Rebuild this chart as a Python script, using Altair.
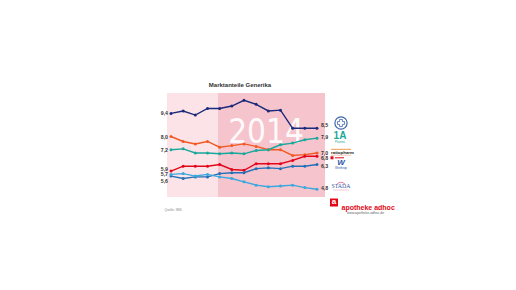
import altair as alt
import pandas as pd

# ---------------- data ----------------
months = ["Sept", "Okt", "Nov", "Dez", "Jan", "Feb", "Mär", "Apr", "Mai", "Jun", "Jul", "Aug", "Sep"]

series_names = ["Logo rund", "ratiopharm", "1 A Pharma", "Logo rot", "Winthrop", "STADA"]
series_colors = ["#1b2a7a", "#f15a24", "#19a89b", "#e3061b", "#2271b8", "#3aa7df"]

navy = [9.4, 9.55, 9.3, 9.7, 9.7, 9.85, 10.2, 9.95, 9.55, 9.6, 8.5, 8.5, 8.5]
orange = [8.0, 7.7, 7.55, 7.7, 7.35, 7.45, 7.55, 7.4, 7.2, 7.2, 6.85, 6.9, 7.0]
teal = [7.2, 7.25, 7.0, 7.0, 6.95, 7.0, 6.95, 7.15, 7.2, 7.5, 7.6, 7.8, 7.9]
red = [5.9, 6.2, 6.2, 6.2, 6.3, 6.0, 5.95, 6.35, 6.35, 6.35, 6.55, 6.8, 6.8]
blue = [5.6, 5.45, 5.55, 5.55, 5.75, 5.8, 5.8, 6.05, 6.1, 6.05, 6.2, 6.2, 6.3]
lightblue = [5.7, 5.75, 5.6, 5.7, 5.55, 5.45, 5.25, 5.05, 4.95, 5.0, 5.05, 4.9, 4.8]

all_series = [navy, orange, teal, red, blue, lightblue]

# label offsets (pixels) to keep stacked labels readable
left_dy = [0, 0, 0, -2, 4.5, 0]
right_dy = [-3, 0, -1, 1.5, 1, -1]

# ---------------- layout ----------------
PL, PT = 167, 93          # plot origin in the page
W, H = 158, 104           # plot area size
FONT = "Liberation Sans"

rows = []
for name, vals in zip(series_names, all_series):
    for i, v in enumerate(vals):
        rows.append({"s": name, "idx": i, "v": v})
df = pd.DataFrame(rows)

label_expr = "['" + "','".join(months) + "'][datum.value]"
x_axis = alt.Axis(values=list(range(len(months))), labelExpr=label_expr, tickSize=2,
                  tickColor="#aaaaaa", domainColor="#cccccc", domainWidth=0.6,
                  labelFontSize=4.8, labelColor="#555555", labelPadding=2, grid=False,
                  title=None, labelFont=FONT, labelOverlap=False, labelFlush=False)
x_scale = alt.Scale(domain=[-0.33, 12.66], nice=False, zero=False)
y_scale = alt.Scale(domain=[4.33, 10.64], nice=False, zero=False)
color_scale = alt.Scale(domain=series_names, range=series_colors)

bg_df = pd.DataFrame({"x0": [-0.33, 3.85], "x1": [3.85, 12.66],
                      "c": ["#fbe3e7", "#f6c4cd"]})
bg = alt.Chart(bg_df).mark_rect().encode(
    x=alt.X("x0:Q", scale=x_scale, axis=x_axis),
    x2="x1",
    y=alt.value(0), y2=alt.value(H),
    color=alt.Color("c:N", scale=None),
)


def deco_text(text, x, y, size, color="#333333", weight="normal", align="center",
              font=FONT, opacity=1, italic=False):
    kw = dict(fontSize=size, color=color, fontWeight=weight, align=align,
              baseline="middle", font=font, opacity=opacity)
    if italic:
        kw["fontStyle"] = "italic"
    return alt.Chart(pd.DataFrame({"t": [text]})).mark_text(**kw).encode(
        x=alt.value(x - PL), y=alt.value(y - PT), text="t:N")


def deco_rule(x1, x2, y, color, width=1.0):
    return alt.Chart(pd.DataFrame({"a": [0]})).mark_rule(color=color, strokeWidth=width).encode(
        x=alt.value(x1 - PL), x2=alt.value(x2 - PL), y=alt.value(y - PT))


def deco_point(x, y, shape, size, fill=None, stroke=None, width=1.0):
    kw = dict(shape=shape, size=size, opacity=1)
    if fill:
        kw["filled"] = True
        kw["color"] = fill
    else:
        kw["filled"] = False
        kw["color"] = stroke
        kw["strokeWidth"] = width
    return alt.Chart(pd.DataFrame({"a": [0]})).mark_point(**kw).encode(
        x=alt.value(x - PL), y=alt.value(y - PT))


year = deco_text("2014", 266, 133, 33, color="white",
                 font="'Liberation Sans Narrow', 'DejaVu Sans Condensed', 'Liberation Sans', sans-serif",
                 opacity=0.92)

enc = dict(
    x=alt.X("idx:Q", scale=x_scale, axis=x_axis),
    y=alt.Y("v:Q", scale=y_scale, axis=None),
    color=alt.Color("s:N", scale=color_scale, legend=None),
)
lines = alt.Chart(df).mark_line(strokeWidth=1.4).encode(detail="s:N", **enc)
points = alt.Chart(df).mark_point(filled=True, size=9, opacity=1).encode(**enc)

value_labels = []
for name, vals, dl, dr in zip(series_names, all_series, left_dy, right_dy):
    ldf = pd.DataFrame({"idx": [0], "v": [vals[0]], "t": [f"{vals[0]:.1f}".replace(".", ",")]})
    rdf = pd.DataFrame({"idx": [len(vals) - 1], "v": [vals[-1]],
                        "t": [f"{vals[-1]:.1f}".replace(".", ",")]})
    for d, dx, dy, al in ((ldf, -3, dl, "right"), (rdf, 4, dr, "left")):
        value_labels.append(
            alt.Chart(d).mark_text(fontSize=5.2, fontWeight="bold", color="#333333", font=FONT,
                                   align=al, baseline="middle", dx=dx, dy=dy).encode(
                x=alt.X("idx:Q", scale=x_scale, axis=None),
                y=alt.Y("v:Q", scale=y_scale, axis=None),
                text="t:N")
        )

decor = [
    deco_text("Marktanteile Generika", 240, 85, 6, color="#333333", weight="bold"),
    deco_text("Quelle: IMS", 173, 210, 3.3, color="#888888"),
    # round logo
    deco_point(341, 123, "circle", 150, stroke="#3f66ad", width=1.2),
    deco_point(341, 123, "cross", 50, stroke="#3f66ad", width=0.8),
    # 1 A Pharma
    deco_text("1A", 340, 135.5, 10, color="#19a89b", weight="bold"),
    deco_text("Pharma", 340, 142, 2.8, color="#19a89b"),
    # ratiopharm
    deco_rule(331, 351, 149.3, "#f39a4a", 1.0),
    deco_text("ratiopharm", 331, 152.5, 4.4, color="#222222", weight="bold", align="left"),
    deco_rule(331, 351, 155.2, "#f4b6a8", 0.8),
    # red logo
    deco_point(332, 157.8, "square", 9, fill="#e3061b"),
    deco_rule(335, 344, 157.8, "#e3061b", 1.0),
    # Winthrop
    deco_text("W", 341, 162.5, 8, color="#2a55a5", weight="bold", italic=True),
    deco_text("Winthrop", 341, 167.5, 3, color="#2a55a5"),
    # STADA
    deco_point(341, 182.5, "M -1 0.4 Q 0 -0.5 1 0.4", 70, stroke="#e4739a", width=0.9),
    deco_text("STADA", 341, 186.3, 5.8, color="#3a55a0", font="Liberation Serif"),
    deco_rule(333, 349, 190, "#f0a9c0", 0.6),
    # apotheke adhoc
    deco_point(334, 202.5, "square", 64, fill="#e30613"),
    deco_text("a", 334, 202.3, 8, color="white", weight="bold"),
    deco_text("apotheke adhoc", 341.5, 207.5, 7, color="#e30613", weight="bold", align="left"),
    deco_text("www.apotheke-adhoc.de", 347, 212.8, 3.4, color="#666666", align="left"),
]

chart = alt.layer(bg, year, lines, points, *value_labels, *decor).properties(
    width=W, height=H,
    autosize=alt.AutoSizeParams(type="none"),
    padding={"left": PL, "top": PT, "right": 516 - PL - W, "bottom": 290 - PT - H},
    background="white",
).configure_view(strokeWidth=0)

chart.save("out.html", embed_options={"renderer": "svg", "actions": False})
